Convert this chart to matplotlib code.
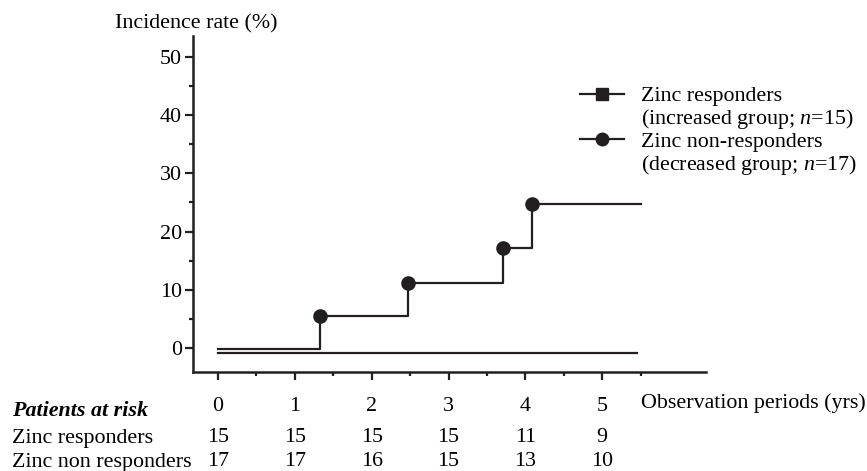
import numpy as np
import matplotlib.pyplot as plt
from matplotlib.lines import Line2D
from matplotlib.transforms import blended_transform_factory

plt.rcParams['font.family'] = ['Liberation Serif', 'DejaVu Serif']
plt.rcParams['mathtext.fontset'] = 'custom'
plt.rcParams['mathtext.rm'] = 'Liberation Serif'
plt.rcParams['mathtext.it'] = 'Liberation Serif:italic'

FS = 15.8
INK = '#231f20'

# at-risk table
years = [0, 1, 2, 3, 4, 5]
risk_resp = [15, 15, 15, 15, 11, 9]
risk_nonresp = [17, 17, 16, 15, 13, 10]

# step curves (incidence %)
nonresp_t = [0, 1.33, 2.47, 3.71, 4.08]
nonresp_rate = [-0.2, 5.5, 11.1, 17.1, 24.8]
nonresp_end = 5.51
resp_t = [0]
resp_rate = [-0.8]
resp_end = 5.45

fig = plt.figure(figsize=(8.67, 4.71), dpi=100)
ax = fig.add_axes([193 / 867, 1 - 371.7 / 471, (706 - 193) / 867, (371.7 - 36) / 471])

ax.step(resp_t + [resp_end], resp_rate + [resp_rate[-1]], where='post',
        color=INK, lw=1.6)
ax.step(nonresp_t + [nonresp_end], nonresp_rate + [nonresp_rate[-1]], where='post',
        color=INK, lw=1.6)
ax.plot(nonresp_t[1:], nonresp_rate[1:], 'o', color=INK, ms=9.5)

ax.set_xlim(-0.325, 6.35)
ax.set_ylim(-4.07, 53.6)
for s in ['top', 'right']:
    ax.spines[s].set_visible(False)
for s in ['left', 'bottom']:
    ax.spines[s].set_linewidth(1.8)
    ax.spines[s].set_color(INK)

ax.set_xticks(years)
ax.set_xticks(np.arange(0.5, 6, 1), minor=True)
ax.set_yticks(range(0, 51, 10))
ax.set_yticks(range(5, 50, 10), minor=True)
ax.tick_params(which='major', length=6, width=1.6, color=INK, labelsize=FS)
ax.tick_params(which='minor', length=3, width=1.6, color=INK)
ax.tick_params(axis='y', pad=2)
ax.tick_params(axis='x', pad=12)

handles = [Line2D([], [], color=INK, lw=1.6, marker='s', ms=8.6),
           Line2D([], [], linestyle='none'),
           Line2D([], [], color=INK, lw=1.6, marker='o', ms=9),
           Line2D([], [], linestyle='none')]
labels = ['Zinc responders', '(increased group; $n$=15)',
          'Zinc non-responders', '(decreased group; $n$=17)']
fig.legend(handles, labels, loc='upper left', bbox_to_anchor=(580 / 867, 1 - 86 / 471),
           frameon=False, borderpad=0, borderaxespad=0, handlelength=2.0,
           handletextpad=0.8, labelspacing=0.03, fontsize=FS)

fig.text(115 / 867, 1 - 24 / 471, 'Incidence rate (%)', fontsize=FS, va='center')
fig.text(641 / 867, 1 - 403 / 471, 'Observation periods (yrs)', fontsize=FS, va='center')

fig.text(12 / 867, 1 - 411 / 471, 'Patients at risk', fontsize=FS, va='center',
         weight='bold', style='italic')
fig.text(12 / 867, 1 - 438 / 471, 'Zinc responders', fontsize=FS, va='center')
fig.text(12 / 867, 1 - 462 / 471, 'Zinc non responders', fontsize=FS, va='center')

tr = blended_transform_factory(ax.transData, fig.transFigure)
for x, a, b in zip(years, risk_resp, risk_nonresp):
    ax.text(x, 1 - 438 / 471, str(a), transform=tr, ha='center', va='center',
            fontsize=FS, clip_on=False)
    ax.text(x, 1 - 462 / 471, str(b), transform=tr, ha='center', va='center',
            fontsize=FS, clip_on=False)

fig.savefig('out.png', dpi=100)
